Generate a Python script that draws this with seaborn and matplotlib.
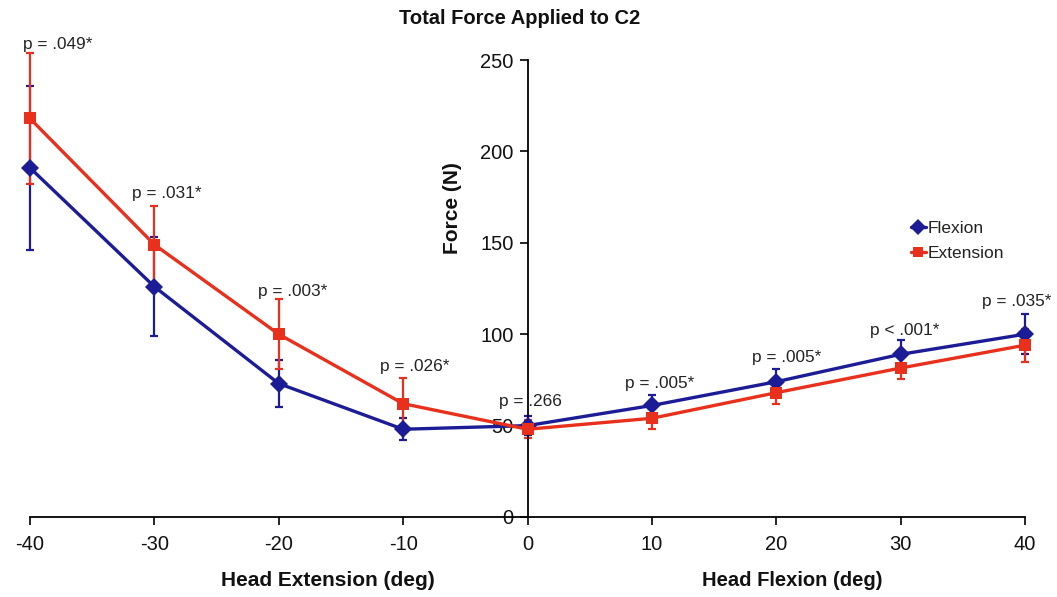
import matplotlib
matplotlib.use("Agg")
import matplotlib.pyplot as plt
import seaborn as sns
import pandas as pd
import numpy as np

# ---- data ----
angles = [-40, -30, -20, -10, 0, 10, 20, 30, 40]
flexion = [191, 126, 73, 48, 50, 61, 74, 89, 100]
flexion_err = [45, 27, 13, 6, 5, 6, 7, 8, 11]
extension = [218, 149, 100, 62, 48, 54, 68, 81.5, 94]
extension_err = [36, 21, 19, 14, 5, 6, 6, 6, 9]
p_labels = ["p = .049*", "p = .031*", "p = .003*", "p = .026*", "p = .266",
            "p = .005*", "p = .005*", "p < .001*", "p = .035*"]
p_x = [-37.8, -29.0, -18.9, -9.05, 0.2, 10.6, 20.8, 30.3, 39.3]
p_y = [258.7, 177, 123.6, 82.6, 63, 73.3, 87, 102, 118]
y_ticks = [0, 50, 100, 150, 200, 250]

blue = "#1c1c96"
red = "#e8301c"

df = pd.DataFrame({
    "angle": angles * 2,
    "force": flexion + extension,
    "series": ["Flexion"] * len(angles) + ["Extension"] * len(angles),
})

sns.set_theme(style="white")
plt.rcParams["font.family"] = ["Liberation Sans", "DejaVu Sans"]

fig = plt.figure(figsize=(10.57, 5.97), dpi=100)
ax = fig.add_axes([30 / 1057, 1 - 517 / 597, (1025 - 30) / 1057, (517 - 60) / 597])

for vals, errs, col in [(flexion, flexion_err, blue), (extension, extension_err, red)]:
    eb = ax.errorbar(angles, vals, yerr=errs, fmt="none", ecolor=col,
                     elinewidth=1.6, capsize=3, capthick=1.6, zorder=2)
    for art in eb.lines[1] + eb.lines[2]:
        art.set_clip_on(False)

sns.lineplot(data=df, x="angle", y="force", hue="series", style="series",
             palette={"Flexion": blue, "Extension": red},
             markers={"Flexion": "D", "Extension": "s"},
             dashes=False, linewidth=2.4, markersize=9, markeredgewidth=0,
             ax=ax, zorder=3)
for ln in ax.lines:
    ln.set_clip_on(False)

for lab, x, y in zip(p_labels, p_x, p_y):
    ax.text(x, y, lab, ha="center", va="center", fontsize=12.4,
            color="#222222", clip_on=False)

ax.set_xlim(-40, 40)
ax.set_ylim(0, 250)
ax.set_xticks(angles)
ax.set_xticklabels([str(a) for a in angles])
ax.set_yticks(y_ticks)

ax.spines["left"].set_position(("data", 0))
ax.spines["top"].set_visible(False)
ax.spines["right"].set_visible(False)
for s in ["left", "bottom"]:
    ax.spines[s].set_color("black")
    ax.spines[s].set_linewidth(1.3)
ax.tick_params(axis="both", direction="out", length=6, width=1.2,
               color="black", labelsize=14.5, labelcolor="#111111")
ax.tick_params(axis="x", pad=7, bottom=True)
ax.tick_params(axis="y", pad=4, left=True)

ax.set_xlabel("")
ax.set_ylabel("")
fig.text(452 / 1057, 1 - 208 / 597, "Force (N)", rotation=90, ha="center",
         va="center", fontsize=15, fontweight="bold", color="#111111")
fig.text(328 / 1057, 1 - 580 / 597, "Head Extension (deg)", ha="center",
         va="center", fontsize=15, fontweight="bold", color="#111111")
fig.text(792 / 1057, 1 - 580 / 597, "Head Flexion (deg)", ha="center",
         va="center", fontsize=14.5, fontweight="bold", color="#111111")
fig.text(520 / 1057, 1 - 18 / 597, "Total Force Applied to C2", ha="center",
         va="center", fontsize=14.5, fontweight="bold", color="#111111")

handles, labels = ax.get_legend_handles_labels()
leg = ax.legend(handles, labels, loc="center left",
                bbox_to_anchor=((895 - 30) / 995, 1 - (241 - 60) / 457),
                frameon=False, handlelength=0.9, handletextpad=0.1,
                labelspacing=0.55, fontsize=12.5, markerscale=0.85)
for t in leg.get_texts():
    t.set_color("#222222")

fig.savefig("out.png", dpi=100, facecolor="white")
